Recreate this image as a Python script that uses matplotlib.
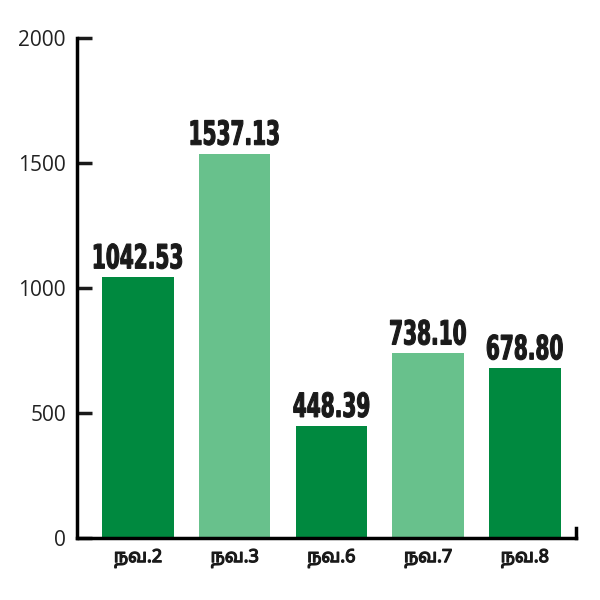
import matplotlib
matplotlib.use("Agg")
import matplotlib.pyplot as plt
from matplotlib.textpath import TextPath
from matplotlib.patches import PathPatch
from matplotlib.font_manager import FontProperties
import matplotlib.transforms as mtrans
import matplotlib.patheffects as pe

categories = ["நவ.2", "நவ.3", "நவ.6", "நவ.7", "நவ.8"]
values = [1042.53, 1537.13, 448.39, 738.10, 678.80]
value_labels = ["1042.53", "1537.13", "448.39", "738.10", "678.80"]
colors = ["#00893f", "#68c18c", "#00893f", "#68c18c", "#00893f"]

fig = plt.figure(figsize=(6, 6), dpi=100)
ax = fig.add_axes([77 / 600, 62 / 600, 499 / 600, 500 / 600])

x = range(len(categories))
ax.bar(x, values, width=0.74, color=colors)

# condensed, tall value labels (like a heavy narrow newspaper font)
fp = FontProperties(family="DejaVu Sans", weight="bold", stretch="condensed")
px = fig.dpi / 72
for xi, v, lab in zip(x, values, value_labels):
    tp = TextPath((0, 0), lab, size=24, prop=fp)
    ext = tp.get_extents()
    sx, sy = 0.67 * px, 1.0 * px
    tr = (mtrans.Affine2D().translate(-ext.x0 - ext.width / 2, 0).scale(sx, sy)
          + mtrans.ScaledTranslation(xi, v, ax.transData)
          + mtrans.Affine2D().translate(0, 9))
    ax.add_patch(PathPatch(tp, transform=tr, color="#1a1a1a", lw=0.8,
                           clip_on=False))

ax.set_xlim(-0.63, 4.53)
ax.set_ylim(0, 2000)
ax.set_yticks([0, 500, 1000, 1500, 2000])
ax.set_xticks(list(x))
ax.set_xticklabels(categories, fontsize=13, fontweight="bold",
                   family=["Noto Sans Tamil", "Noto Sans", "DejaVu Sans"])
for t in ax.get_xticklabels():
    t.set_path_effects([pe.withStroke(linewidth=0.9, foreground="#1a1a1a")])
    t.set_color("#1a1a1a")
ax.tick_params(axis="y", direction="in", length=11, width=2.5, labelsize=15,
               pad=8, colors="#1a1a1a")
ax.tick_params(axis="x", length=0, pad=8)
for t in ax.get_yticklabels():
    t.set_family(["Open Sans", "DejaVu Sans"])
    t.set_color("#222222")

for s in ["top", "right"]:
    ax.spines[s].set_visible(False)
ax.spines["left"].set_linewidth(2.5)
ax.spines["bottom"].set_linewidth(2.5)
ax.plot([1, 1], [0, 0.02], transform=ax.transAxes, color="black", lw=2.5,
        clip_on=False)

fig.savefig("out.png", dpi=100)
